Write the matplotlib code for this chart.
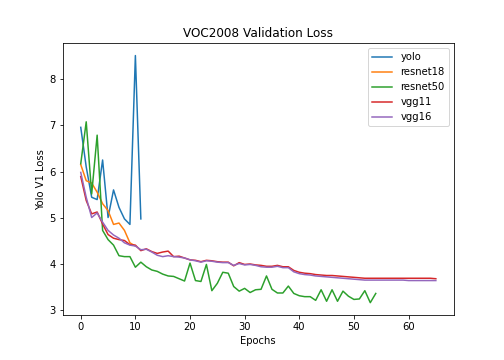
import matplotlib
matplotlib.use("Agg")
import matplotlib.pyplot as plt

# validation loss per epoch
yolo = [6.96, 6.1, 5.44, 5.39, 6.25, 5.0, 5.6, 5.22, 4.97, 4.85, 8.52, 4.97]
resnet18 = [6.15, 5.8, 5.75, 5.55, 5.3, 5.15, 4.85, 4.88, 4.72, 4.45, 4.38]
resnet50 = [6.17, 7.08, 5.51, 6.79, 4.72, 4.52, 4.4, 4.17, 4.15, 4.15,
            3.92, 4.03, 3.93, 3.86, 3.83, 3.77, 3.73, 3.72, 3.67, 3.62,
            4.01, 3.63, 3.61, 3.98, 3.41, 3.57, 3.81, 3.79, 3.5, 3.4,
            3.46, 3.37, 3.43, 3.44, 3.73, 3.44, 3.36, 3.36, 3.51, 3.35,
            3.3, 3.28, 3.28, 3.2, 3.43, 3.18, 3.43, 3.18, 3.4, 3.29,
            3.22, 3.23, 3.41, 3.15, 3.35]
vgg11 = [5.89, 5.37, 5.08, 5.12, 4.86, 4.63, 4.55, 4.52, 4.5, 4.41,
         4.4, 4.28, 4.32, 4.26, 4.22, 4.25, 4.27, 4.15, 4.16, 4.12,
         4.08, 4.07, 4.04, 4.07, 4.06, 4.04, 4.03, 4.03, 3.95, 4.02,
         3.98, 3.99, 3.97, 3.96, 3.94, 3.94, 3.96, 3.93, 3.93, 3.85,
         3.81, 3.79, 3.78, 3.76, 3.75, 3.74, 3.74, 3.73, 3.72, 3.71,
         3.7, 3.69, 3.68, 3.68, 3.68, 3.68, 3.68, 3.68, 3.68, 3.68,
         3.68, 3.68, 3.68, 3.68, 3.68, 3.67]
vgg16 = [5.98, 5.44, 5.0, 5.1, 4.9, 4.72, 4.62, 4.55, 4.45, 4.4,
         4.38, 4.3, 4.31, 4.25, 4.18, 4.15, 4.17, 4.15, 4.14, 4.12,
         4.08, 4.06, 4.03, 4.06, 4.05, 4.03, 4.02, 4.02, 3.96, 4.0,
         3.97, 3.98, 3.96, 3.93, 3.92, 3.92, 3.94, 3.91, 3.91, 3.82,
         3.78, 3.76, 3.75, 3.73, 3.72, 3.71, 3.7, 3.69, 3.68, 3.67,
         3.66, 3.65, 3.64, 3.64, 3.64, 3.64, 3.64, 3.64, 3.64, 3.64,
         3.63, 3.63, 3.63, 3.63, 3.63, 3.63]

series = [("yolo", yolo), ("resnet18", resnet18), ("resnet50", resnet50),
          ("vgg11", vgg11), ("vgg16", vgg16)]

fig = plt.figure(figsize=(7, 5), dpi=72)
for name, vals in series:
    plt.plot(range(len(vals)), vals, label=name)
plt.title("VOC2008 Validation Loss")
plt.xlabel("Epochs")
plt.ylabel("Yolo V1 Loss")
plt.legend()
plt.subplots_adjust(bottom=0.125)
plt.savefig("out.png")
